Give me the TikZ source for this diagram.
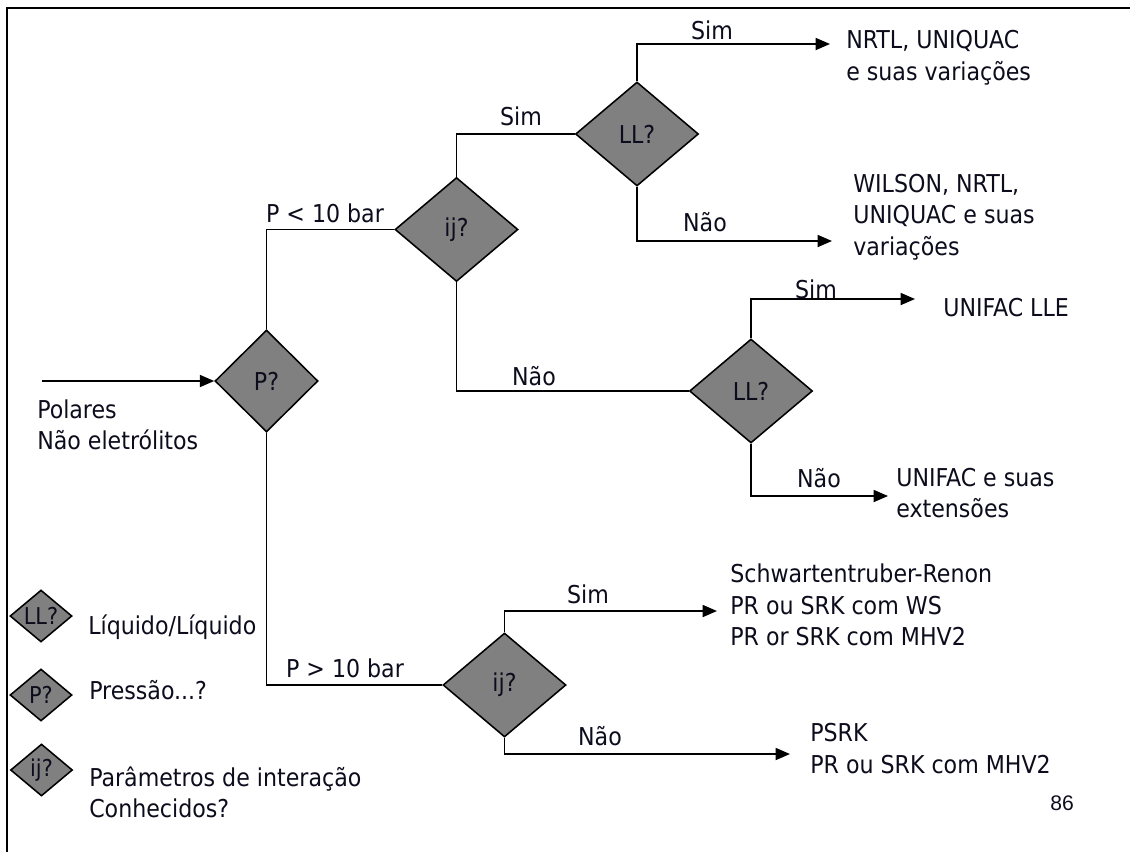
\documentclass[tikz,border=0pt]{standalone}
\usepackage{fontspec}
\setmainfont{DejaVu Sans Condensed}
\newfontfamily\pgfont{Liberation Sans}
\usepackage{tikz}
\usetikzlibrary{positioning,arrows.meta,shapes.geometric}
\definecolor{dFill}{RGB}{128,128,128}
\definecolor{dInk}{RGB}{12,12,28}
\tikzset{
  dec/.style={diamond, draw=black, fill=dFill, line width=1.1pt, inner sep=0pt,
              minimum width=30.75mm, minimum height=26mm, text=dInk,
              font=\fontsize{17.5}{22}\selectfont},
  decsm/.style={dec, minimum width=15.5mm, minimum height=13mm,
                font=\fontsize{16.5}{19}\selectfont},
  flow/.style={-{Triangle[length=3.6mm, width=3mm]}, draw=black, line width=1.25pt},
  link/.style={draw=black, line width=1.25pt},
  res/.style={anchor=west, inner sep=0pt, align=left, text=dInk,
              font=\fontsize{17.5}{22.5}\selectfont},
  lbl/.style={inner sep=0pt, text=dInk, font=\fontsize{17.5}{22}\selectfont},
}

\begin{document}
\begin{tikzpicture}[x=0.25mm, y=-0.25mm]
  \useasboundingbox (0,0) rectangle (1130,852);
  % frame
  \draw[line width=1.4pt] (7,852) -- (7,8) -- (1130,8);

  % decisions
  \node[dec, minimum width=25.75mm, minimum height=25.5mm] (p) at (266.5,381) {P?};
  \node[dec] (ija) at (456.5,229.5) {ij?};
  \node[dec] (llA) at (637,134) {LL?};
  \node[dec] (llB) at (751,391) {LL?};
  \node[dec] (ijb) at (504.5,685) {ij?};

  % input
  \coordinate (in) at (42,381);
  \draw[flow] (in) -- (p.west);
  \node[res] (src) at (37,425) {Polares\\Não eletrólitos};

  % results
  \node[res] (rNrtl)   at (846,58)  {NRTL, UNIQUAC\\e suas variações};
  \node[res] (rWilson) at (853,217) {WILSON, NRTL,\\UNIQUAC e suas\\variações};
  \node[res] (rLle)    at (943,308) {UNIFAC LLE};
  \node[res] (rExt)    at (896,493) {UNIFAC e suas\\extensões};
  \node[res] (rSchw)   at (730,605) {Schwartentruber-Renon\\PR ou SRK com WS\\PR or SRK com MHV2};
  \node[res] (rPsrk)   at (810,748.5) {PSRK\\PR ou SRK com MHV2};

  \coordinate (tNrtl)   at (830,44);
  \coordinate (tWilson) at (832,241);
  \coordinate (tLle)    at (915,299);
  \coordinate (tExt)    at (888,496);
  \coordinate (tSchw)   at (717,611);
  \coordinate (tPsrk)   at (790,754);

  % connectors
  \draw[link] (p.north) |- (ija.west);
  \draw[link] (p.south) |- (ijb.west);
  \draw[link] (ija.north) |- (llA.west);
  \draw[link] (ija.south) |- (llB.west);
  \draw[flow] (llA.north) |- (tNrtl);
  \draw[flow] (llA.south) |- (tWilson);
  \draw[flow] (llB.north) |- (tLle);
  \draw[flow] (llB.south) |- (tExt);
  \draw[flow] (ijb.north) |- (tSchw);
  \draw[flow] (ijb.south) |- (tPsrk);

  % branch labels
  \node[lbl] (lPlo)  at (325,213) {P < 10 bar};
  \node[lbl] (lPhi)  at (345,668) {P > 10 bar};
  \node[lbl] (lSa)   at (521,116) {Sim};
  \node[lbl] (lNa)   at (534,376) {Não};
  \node[lbl] (lSb)   at (712,30)  {Sim};
  \node[lbl] (lNb)   at (705,222) {Não};
  \node[lbl] (lSc)   at (816,289) {Sim};
  \node[lbl] (lNc)   at (819,478) {Não};
  \node[lbl] (lSd)   at (588,594) {Sim};
  \node[lbl] (lNd)   at (600,736) {Não};

  % legend
  \node[decsm] (kLL) at (41,616) {LL?};
  \node[decsm] (kP)  at (41,695) {P?};
  \node[decsm] (kIJ) at (41.5,770) {ij?};
  \node[res] (kLLt) at (88,627) {Líquido/Líquido};
  \node[res] (kPt)  at (89,690) {Pressão...?};
  \node[res] (kIJt) at (89,792.5) {Parâmetros de interação\\Conhecidos?};

  \node[lbl, font=\pgfont\fontsize{15}{18}\selectfont] (pg) at (1062,803) {86};
\end{tikzpicture}
\end{document}
